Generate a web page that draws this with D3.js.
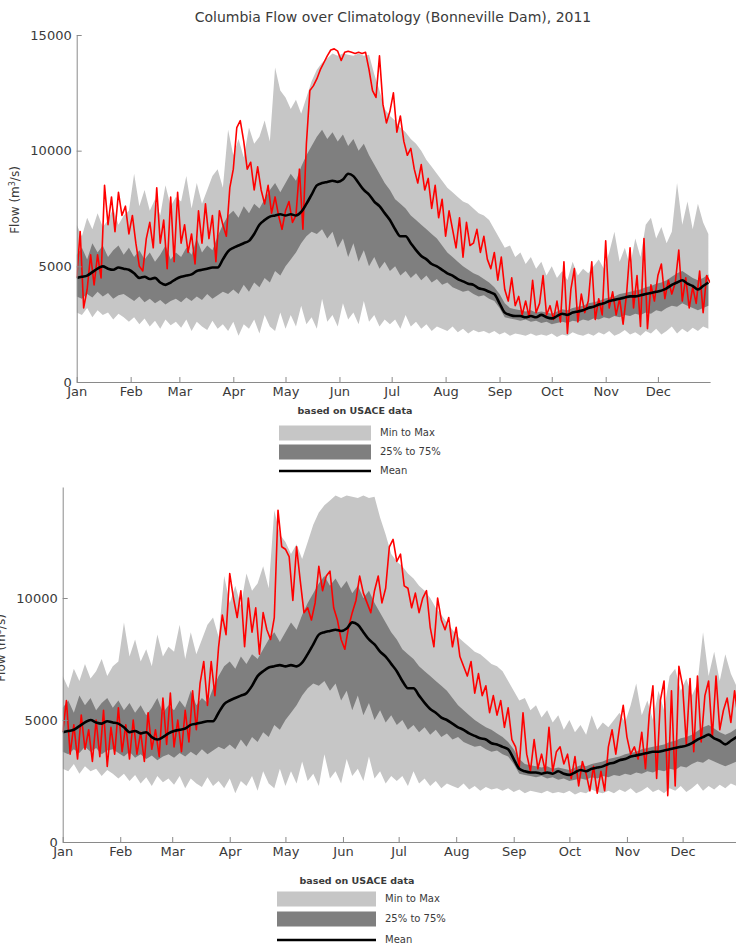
<!DOCTYPE html>
<html>
<head>
<meta charset="utf-8">
<script src="https://cdn.jsdelivr.net/npm/d3@7"></script>
<style>
  body { margin: 0; background: #fff; }
  svg { display: block; }
  text { font-family: "DejaVu Sans", sans-serif; fill: #3a3a3a; }
</style>
</head>
<body>
<svg id="chart" width="736" height="949"></svg>
<script>
// ---- Axis labels -------------------------------------------------------
const monthLabels = ["Jan", "Feb", "Mar", "Apr", "May", "Jun", "Jul", "Aug", "Sep", "Oct", "Nov", "Dec"];
const monthStartDay = [0, 31, 59, 90, 120, 151, 181, 212, 243, 273, 304, 334];
const yTicks2011 = [0, 5000, 10000, 15000];
const yTicks2012 = [0, 5000, 10000];

// ---- Climatology, Bonneville Dam flow (m^3/s), one value every 3 days ----
const climStep = 3;
const climMin = [
  3000,2900,3200,2800,3100,2900,3000,2700,2950,2800,
  2600,2800,2500,2750,2400,2650,2300,2700,2450,2600,
  2350,2700,2200,2600,2400,2250,2650,2300,2500,2200,
  2600,2000,2500,2300,2700,2100,2900,2400,2200,3000,
  2300,2900,2400,3300,2500,2800,2300,3600,2600,2900,
  2400,3400,2700,3000,2500,3500,2600,2900,2400,2700,
  2500,2700,2300,2900,2400,2600,2300,2500,2200,2400,
  2300,2200,2400,2150,2300,2100,2250,2150,2200,2100,
  2200,2050,2150,2000,2100,2050,2000,2100,2000,2050,
  2000,2100,1950,2050,2000,2150,2050,2000,2100,2000,
  2150,2050,2200,2000,2100,2250,2050,2150,2000,2200,
  2100,2300,2050,2200,2400,2100,2300,2150,2350,2200,
  2400,2300
];
const climP25 = [
  3700,3600,3800,3650,3900,3700,3850,3600,3750,3800,
  3650,3500,3700,3450,3600,3400,3550,3350,3500,3600,
  3450,3650,3500,3700,3550,3800,3600,3750,3900,3800,
  4000,3800,4200,3900,4300,4100,4500,4300,4800,4600,
  5000,5300,5600,6000,6300,6500,6400,6600,6200,6500,
  5800,6200,5400,6000,5200,5700,5000,5400,4900,5200,
  4800,5000,4600,4800,4500,4700,4400,4600,4300,4450,
  4200,4300,4100,4000,3900,3950,3800,3700,3750,3600,
  3500,3200,2800,2750,2700,2650,2700,2600,2650,2550,
  2600,2500,2550,2600,2550,2650,2600,2700,2650,2750,
  2700,2800,2750,2850,2800,2900,2850,2950,2900,3000,
  2950,3100,3050,3200,3300,3250,3400,3300,3200,3100,
  3200,3300
];
const climP75 = [
  5500,5800,5300,6000,5600,5900,5400,5700,5900,5500,
  5800,5400,5700,5300,5600,5200,5500,5900,5300,5600,
  5400,5800,5500,6200,5600,5900,5700,6300,6800,7200,
  7400,7100,7600,7300,7700,7500,7900,8300,8600,8200,
  8600,9000,8700,9300,9800,10200,10600,10900,10500,10800,
  10400,10700,10200,10500,10000,10300,9800,9400,9000,8600,
  8300,7900,7700,7500,7200,7000,6800,6600,6400,6200,
  5900,5600,5400,5200,5000,4850,4700,4600,4450,4300,
  4100,3800,3400,3200,3150,3100,3050,3100,3000,3050,
  3000,2950,3050,3150,3100,3200,3250,3300,3400,3450,
  3500,3600,3650,3700,3800,3850,3900,3950,4000,4100,
  4150,4250,4300,4400,4550,4700,4800,4650,4500,4400,
  4500,4650
];
const climMean = [
  4500,4550,4600,4750,4900,5000,4900,4850,4950,4900,
  4850,4700,4500,4550,4450,4500,4300,4200,4300,4450,
  4550,4600,4650,4800,4850,4900,4950,4950,5300,5650,
  5800,5900,6000,6100,6400,6800,7000,7150,7200,7250,
  7200,7250,7200,7350,7700,8100,8500,8600,8650,8700,
  8650,8750,9000,8900,8600,8300,8100,7800,7600,7300,
  7000,6600,6300,6300,6000,5700,5450,5300,5100,5000,
  4850,4700,4600,4450,4350,4250,4200,4050,4000,3900,
  3800,3400,3000,2900,2850,2850,2800,2850,2800,2900,
  2800,2750,2850,2950,2900,3000,3050,3100,3200,3250,
  3350,3400,3500,3550,3600,3650,3700,3700,3750,3800,
  3850,3900,3950,4050,4200,4300,4400,4250,4150,4000,
  4150,4300
];
const climMax = [
  6800,6300,7100,6600,7300,6700,7000,7500,6800,7200,
  7400,9000,7600,8300,7400,7900,7200,8500,7600,8000,
  7800,8900,7500,8600,7700,8300,8900,9200,8400,10900,
  9800,10500,9700,11000,10300,10600,11300,10400,13600,12600,
  12300,11800,12200,11600,12300,13000,13500,13800,14000,14200,
  14100,14200,14150,14100,14200,14100,14150,13300,12600,11800,
  11500,11300,11000,10800,10500,10300,10000,9600,9300,9000,
  8700,8400,8200,8000,7800,7700,7500,7300,7200,7000,
  6600,6200,5800,5900,5400,5600,5100,5400,4900,5200,
  4600,5000,4500,4800,4400,5200,4600,4900,4700,5000,
  5300,4900,5600,6500,5200,5800,5000,6200,5400,6800,
  7100,6200,6700,6000,6500,8600,6800,7800,6600,7700,
  6900,6400
];

// ---- Observed flow (m^3/s), one value every 2 days ----
const flowStep = 2;
const flow2011 = [
  4500,6500,3200,4000,5500,4200,5500,4500,8500,6800,
  8000,6500,8200,7200,7600,6400,7200,6000,5000,4800,
  6200,6900,5800,8400,6000,7000,4900,8000,5200,8200,
  6000,6800,5600,6400,5100,7400,6000,7700,6200,7200,
  5200,7400,6800,6300,8400,9200,11000,11300,10400,9200,
  9500,8300,9300,8300,7700,8500,7300,8000,7200,6600,
  7400,7800,6900,7200,9200,6600,10300,12600,12800,13100,
  13500,13800,14100,14350,14400,14300,13900,14250,14300,14250,
  14200,14250,14200,14250,13500,12600,12300,14100,12000,11200,
  11700,12500,10800,11500,10400,9800,10100,9200,8600,9400,
  8300,8800,7500,8500,7100,7900,6300,7400,6600,5800,
  7100,5400,6900,5900,6000,6600,5600,6300,5300,4900,
  5600,4400,5400,4000,3500,4500,3300,3700,2900,3500,
  2800,4400,3000,3400,4600,2900,3300,2700,3500,2600,
  5200,2100,4000,4900,2600,3800,3000,3500,5200,2700,
  3600,2900,6100,3200,3900,2900,3600,2500,3800,5800,
  3200,4600,2400,6200,2300,4200,3500,4600,5100,3600,
  4400,3800,4300,5700,3500,4500,3200,4100,3400,4800,
  3000,4600,4300
];
const flow2012 = [
  4500,5800,3600,4800,3400,5200,3800,4600,3300,5000,
  3500,5400,3100,4700,3600,5500,3700,4800,3400,5000,
  3600,4500,3300,5300,3800,4600,3500,5900,4000,6100,
  3900,5000,3700,5400,4100,6200,4600,6500,7400,5600,
  7400,6000,8000,9300,8500,11000,10000,9200,10300,8000,
  10000,8600,9600,7700,9400,8700,8300,9200,13600,12100,
  12000,11700,9900,12100,10700,9400,9600,9100,9800,11300,
  10300,10900,11100,9600,9100,8300,7900,8800,9400,9900,
  10900,10200,9800,9400,10300,10900,9800,10400,12100,12400,
  11500,11800,10500,10400,9600,10200,9400,10000,10300,8800,
  8000,10000,9100,8700,9200,8000,8800,7600,7200,6800,
  7400,6100,6900,6000,6400,5300,6000,5200,5800,4700,
  5500,4200,3900,3100,5300,3600,2900,4200,3000,3600,
  2900,4700,2900,3700,3900,3200,3600,2600,3500,2300,
  3300,2800,2100,3100,2000,2900,2100,3900,4600,3600,
  4700,5600,4300,3600,3900,3400,4500,3000,5200,6400,
  2600,5800,6600,1900,6200,2300,7200,6400,4000,6700,
  3700,6800,4100,6000,6600,4300,6800,4600,5400,5900,
  4900,6200,5000
];

// ---- Build records ------------------------------------------------------
const climRows = climMean.map((m, i) => ({
  day: i * climStep,
  min: climMin[i], p25: climP25[i], p75: climP75[i], mean: m, max: climMax[i]
}));
const toFlowRows = arr => arr.map((v, i) => ({ day: i * flowStep, flow: v }));

const svg = d3.select("#chart");
svg.append("rect").attr("width", 736).attr("height", 949).attr("fill", "#fff");

const LIGHT = "#c6c6c6", DARK = "#7f7f7f", AXIS = "#8a8a8a";

function drawPanel(p) {
  const x = d3.scaleLinear().domain([0, 364]).range([p.left, p.right]);
  const y = d3.scaleLinear().domain([0, p.yMax]).range([p.bottom, p.top]);
  const g = svg.append("g");

  const clipId = "clip" + p.id;
  svg.append("clipPath").attr("id", clipId).append("rect")
    .attr("x", p.left).attr("y", p.top - 2)
    .attr("width", p.right - p.left).attr("height", p.bottom - p.top + 2);
  const plot = g.append("g").attr("clip-path", `url(#${clipId})`);

  plot.append("path").datum(climRows)
    .attr("fill", LIGHT)
    .attr("d", d3.area().x(d => x(d.day)).y0(d => y(d.min)).y1(d => y(d.max)));
  plot.append("path").datum(climRows)
    .attr("fill", DARK)
    .attr("d", d3.area().x(d => x(d.day)).y0(d => y(d.p25)).y1(d => y(d.p75)));
  plot.append("path").datum(toFlowRows(p.flow))
    .attr("fill", "none").attr("stroke", "#ff0000").attr("stroke-width", 1.6)
    .attr("stroke-linejoin", "round")
    .attr("d", d3.line().x(d => x(d.day)).y(d => y(d.flow)));
  plot.append("path").datum(climRows)
    .attr("fill", "none").attr("stroke", "#000").attr("stroke-width", 2.6)
    .attr("stroke-linejoin", "round")
    .attr("d", d3.line().curve(d3.curveMonotoneX).x(d => x(d.day)).y(d => y(d.mean)));

  // axes
  const yAxis = d3.axisLeft(y).tickValues(p.yTicks).tickFormat(d3.format("d"))
    .tickSizeInner(-5).tickSizeOuter(0).tickPadding(5);
  const yg = g.append("g").attr("transform", `translate(${p.left},0)`).call(yAxis);
  const xAxis = d3.axisBottom(x).tickValues(monthStartDay)
    .tickFormat((d, i) => monthLabels[i])
    .tickSizeInner(-5).tickSizeOuter(0).tickPadding(5);
  const xg = g.append("g").attr("transform", `translate(0,${p.bottom})`).call(xAxis);
  [yg, xg].forEach(a => {
    a.select(".domain").attr("stroke", AXIS);
    a.selectAll(".tick line").attr("stroke", AXIS);
    a.selectAll(".tick text").attr("fill", "#3a3a3a")
      .style("font-family", '"DejaVu Sans", sans-serif').style("font-size", "13px");
  });

  // y label
  const yl = g.append("text")
    .attr("transform", `translate(${p.yLabelX},${p.yLabelY}) rotate(-90)`)
    .attr("text-anchor", "middle").style("font-size", "12px");
  yl.append("tspan").text("Flow (m");
  yl.append("tspan").attr("baseline-shift", "super").style("font-size", "8px").text("3");
  yl.append("tspan").text("/s)");

  if (p.title) {
    g.append("text").attr("x", p.titleX).attr("y", p.titleY)
      .attr("text-anchor", "middle").style("font-size", "14px").text(p.title);
  }

  // legend
  const L = p.legend;
  g.append("text").attr("x", L.noteX).attr("y", L.noteY)
    .attr("text-anchor", "middle").style("font-size", "9.5px").style("font-weight", "bold")
    .attr("fill", "#333").text("based on USACE data");
  const items = [
    { kind: "area", color: LIGHT, label: "Min to Max" },
    { kind: "area", color: DARK, label: "25% to 75%" },
    { kind: "line", color: "#000", label: "Mean" }
  ];
  items.forEach((it, i) => {
    const cy = L.rowY[i];
    if (it.kind === "area") {
      g.append("rect").attr("x", L.x).attr("y", cy - L.h / 2)
        .attr("width", L.w).attr("height", L.h).attr("fill", it.color);
    } else {
      g.append("line").attr("x1", L.x).attr("x2", L.x + L.w)
        .attr("y1", cy).attr("y2", cy).attr("stroke", it.color).attr("stroke-width", 2.6);
    }
    g.append("text").attr("x", L.x + L.w + 9).attr("y", cy)
      .attr("dominant-baseline", "middle").style("font-size", "10px")
      .attr("fill", "#333").text(it.label);
  });
}

drawPanel({
  id: "a", flow: flow2011, yMax: 15000, yTicks: yTicks2011,
  left: 76.7, right: 710.1, top: 35, bottom: 382,
  title: "Columbia Flow over Climatology (Bonneville Dam), 2011", titleX: 393, titleY: 22,
  yLabelX: 19, yLabelY: 200,
  legend: { noteX: 355, noteY: 414, x: 279, w: 92, h: 15, rowY: [433, 452, 471] }
});
drawPanel({
  id: "b", flow: flow2012, yMax: 14550, yTicks: yTicks2012,
  left: 62.7, right: 738.3, top: 487, bottom: 842,
  title: null,
  yLabelX: 5, yLabelY: 648,
  legend: { noteX: 357, noteY: 884, x: 277, w: 99, h: 15, rowY: [899, 919, 940] }
});
</script>
</body>
</html>
